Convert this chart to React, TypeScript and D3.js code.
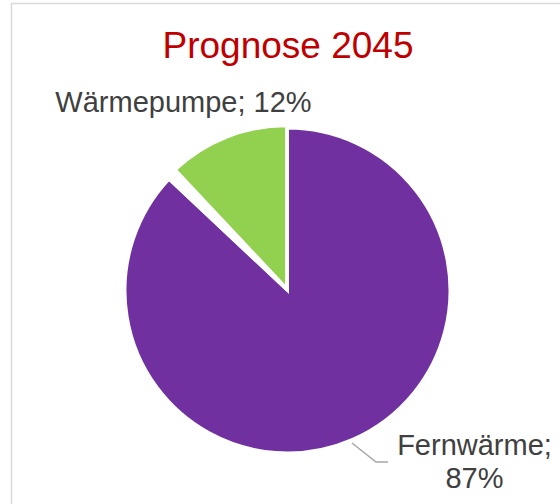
import React from "react";
import * as d3 from "d3";

const categories = ["Fernwärme", "Sonstige", "Wärmepumpe"];
const values = [87, 1, 12];
const colors = ["#7030A0", "#FFFFFF", "#92D050"];
const labelText = ["Fernwärme;", "", "Wärmepumpe; 12%"];
const title = "Prognose 2045";

export default function App() {
  const W = 560, H = 504;
  const cx = 287.5, cy = 290.5, r = 162.5;
  const pie = d3.pie<number>().sort(null).value((d) => d)(values);
  const arc = d3.arc<d3.PieArcDatum<number>>().innerRadius(0).outerRadius(r);
  const font = "'Liberation Sans', Arial, sans-serif";
  const explode = [0, 0, 2.5];
  return (
    <svg width={W} height={H} style={{ position: "absolute", left: 0, top: 0 }}>
      <rect x={0} y={0} width={W} height={H} fill="#fff" />
      <rect x={11.5} y={3.5} width={W + 10} height={H + 10} fill="none" stroke="#D9D9D9" strokeWidth={1.5} />
      <text x={288} y={58} textAnchor="middle" fontFamily={font} fontSize={37} fill="#C00000">{title}</text>
      <g transform={`translate(${cx},${cy})`}>
        {pie.map((p, i) => {
          const mid = (p.startAngle + p.endAngle) / 2;
          const dx = Math.sin(mid) * explode[i];
          const dy = -Math.cos(mid) * explode[i];
          return (
            <path key={categories[i]} d={arc(p) || ""} fill={colors[i]} stroke="#fff" strokeWidth={3}
              transform={`translate(${dx},${dy})`} />
          );
        })}
      </g>
      <polyline points="352,443 376,462 388,462" fill="none" stroke="#A6A6A6" strokeWidth={1.5} />
      <text x={183.5} y={112} textAnchor="middle" fontFamily={font} fontSize={29} fill="#404040">{labelText[2]}</text>
      <text x={474.5} y={455} textAnchor="middle" fontFamily={font} fontSize={29} fill="#404040">{labelText[0]}</text>
      <text x={474.5} y={488} textAnchor="middle" fontFamily={font} fontSize={29} fill="#404040">{values[0]}%</text>
    </svg>
  );
}
